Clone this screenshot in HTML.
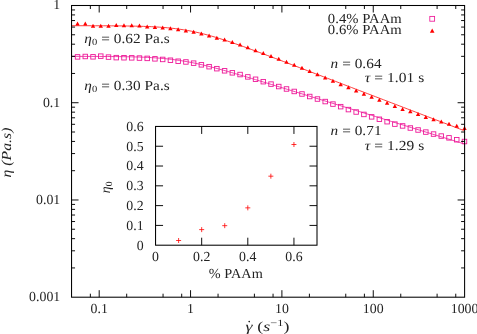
<!DOCTYPE html>
<html><head><meta charset="utf-8"><style>
html,body{margin:0;padding:0;background:#fff;}
body{width:477px;height:334px;overflow:hidden;}
svg{display:block;will-change:transform;}
text{font-family:"Liberation Serif",serif;font-size:13.8px;fill:#222;letter-spacing:0.05px;text-rendering:geometricPrecision;}
.i{font-style:italic;}
</style></head><body>
<svg width="477" height="334" viewBox="0 0 477 334">
<rect width="477" height="334" fill="#fff"/>
<text x="99.2" y="313" text-anchor="middle">0.1</text>
<text x="190.6" y="313" text-anchor="middle">1</text>
<text x="281.9" y="313" text-anchor="middle">10</text>
<text x="373.2" y="313" text-anchor="middle">100</text>
<text x="464.6" y="313" text-anchor="middle">1000</text>
<text x="60.3" y="9.3" text-anchor="end">1</text>
<text x="60.3" y="106.5" text-anchor="end">0.1</text>
<text x="60.3" y="203.8" text-anchor="end">0.01</text>
<text x="60.3" y="301.0" text-anchor="end">0.001</text>
<polyline points="71.5,56.37 75.5,56.37 79.5,56.38 83.5,56.39 87.5,56.40 91.5,56.41 95.5,56.43 99.5,56.44 103.5,56.47 107.5,56.49 111.5,56.53 115.5,56.57 119.5,56.62 123.5,56.68 127.5,56.75 131.6,56.84 135.6,56.95 139.6,57.07 143.6,57.23 147.6,57.41 151.6,57.62 155.6,57.88 159.6,58.17 163.6,58.52 167.6,58.91 171.6,59.36 175.6,59.88 179.6,60.45 183.6,61.08 187.6,61.78 191.6,62.54 195.6,63.35 199.6,64.22 203.6,65.14 207.6,66.10 211.6,67.10 215.6,68.14 219.6,69.21 223.6,70.31 227.6,71.43 231.6,72.56 235.6,73.72 239.6,74.89 243.6,76.07 247.6,77.26 251.6,78.46 255.6,79.66 259.6,80.87 263.6,82.09 267.6,83.30 271.6,84.52 275.6,85.75 279.6,86.97 283.6,88.20 287.6,89.43 291.6,90.66 295.6,91.89 299.6,93.12 303.6,94.35 307.6,95.58 311.6,96.82 315.6,98.05 319.6,99.28 323.6,100.52 327.6,101.75 331.6,102.99 335.6,104.22 339.6,105.45 343.6,106.69 347.6,107.92 351.6,109.16 355.6,110.39 359.6,111.63 363.6,112.86 367.6,114.10 371.6,115.33 375.6,116.57 379.6,117.80 383.6,119.03 387.6,120.27 391.6,121.50 395.6,122.74 399.6,123.97 403.6,125.21 407.6,126.44 411.6,127.68 415.6,128.91 419.6,130.15 423.6,131.38 427.6,132.62 431.6,133.85 435.6,135.09 439.6,136.32 443.6,137.55 447.6,138.79 451.6,140.02 455.6,141.26 459.6,142.49 463.6,143.73 464.6,144.05" fill="none" stroke="#ee1898" stroke-width="0.8"/>
<polyline points="71.5,25.71 75.5,25.71 79.5,25.72 83.5,25.72 87.5,25.73 91.5,25.74 95.5,25.75 99.5,25.76 103.5,25.78 107.5,25.80 111.5,25.83 115.5,25.86 119.5,25.90 123.5,25.95 127.5,26.00 131.6,26.07 135.6,26.16 139.6,26.26 143.6,26.38 147.6,26.53 151.6,26.70 155.6,26.91 159.6,27.16 163.6,27.45 167.6,27.80 171.6,28.20 175.6,28.66 179.6,29.19 183.6,29.79 187.6,30.47 191.6,31.23 195.6,32.06 199.6,32.97 203.6,33.95 207.6,35.00 211.6,36.11 215.6,37.28 219.6,38.51 223.6,39.78 227.6,41.09 231.6,42.44 235.6,43.82 239.6,45.22 243.6,46.64 247.6,48.09 251.6,49.55 255.6,51.02 259.6,52.50 263.6,54.00 267.6,55.50 271.6,57.00 275.6,58.51 279.6,60.02 283.6,61.54 287.6,63.06 291.6,64.59 295.6,66.11 299.6,67.64 303.6,69.16 307.6,70.69 311.6,72.22 315.6,73.75 319.6,75.28 323.6,76.81 327.6,78.34 331.6,79.87 335.6,81.40 339.6,82.94 343.6,84.47 347.6,86.00 351.6,87.53 355.6,89.07 359.6,90.60 363.6,92.13 367.6,93.66 371.6,95.20 375.6,96.73 379.6,98.26 383.6,99.79 387.6,101.33 391.6,102.86 395.6,104.39 399.6,105.92 403.6,107.46 407.6,108.99 411.6,110.52 415.6,112.05 419.6,113.59 423.6,115.12 427.6,116.65 431.6,118.19 435.6,119.72 439.6,121.25 443.6,122.78 447.6,124.32 451.6,125.85 455.6,127.38 459.6,128.91 463.6,130.45 464.6,130.85" fill="none" stroke="#ff0000" stroke-width="0.75"/>
<g fill="none" stroke="#ee1898" stroke-width="0.9"><rect x="75.30" y="54.63" width="4.5" height="4.5"/><rect x="83.04" y="54.24" width="4.5" height="4.5"/><rect x="90.78" y="54.57" width="4.5" height="4.5"/><rect x="98.52" y="53.90" width="4.5" height="4.5"/><rect x="106.26" y="54.85" width="4.5" height="4.5"/><rect x="114.00" y="55.39" width="4.5" height="4.5"/><rect x="121.73" y="55.50" width="4.5" height="4.5"/><rect x="129.47" y="55.59" width="4.5" height="4.5"/><rect x="137.21" y="55.82" width="4.5" height="4.5"/><rect x="144.95" y="56.14" width="4.5" height="4.5"/><rect x="152.69" y="56.59" width="4.5" height="4.5"/><rect x="160.43" y="57.19" width="4.5" height="4.5"/><rect x="168.17" y="57.98" width="4.5" height="4.5"/><rect x="175.91" y="58.98" width="4.5" height="4.5"/><rect x="183.65" y="59.71" width="4.5" height="4.5"/><rect x="191.38" y="60.90" width="4.5" height="4.5"/><rect x="199.12" y="62.58" width="4.5" height="4.5"/><rect x="206.86" y="64.44" width="4.5" height="4.5"/><rect x="214.60" y="66.43" width="4.5" height="4.5"/><rect x="222.34" y="68.55" width="4.5" height="4.5"/><rect x="230.08" y="70.58" width="4.5" height="4.5"/><rect x="237.82" y="72.29" width="4.5" height="4.5"/><rect x="245.56" y="74.65" width="4.5" height="4.5"/><rect x="253.30" y="77.03" width="4.5" height="4.5"/><rect x="261.04" y="79.44" width="4.5" height="4.5"/><rect x="268.77" y="81.86" width="4.5" height="4.5"/><rect x="276.51" y="84.29" width="4.5" height="4.5"/><rect x="284.25" y="86.73" width="4.5" height="4.5"/><rect x="291.99" y="89.21" width="4.5" height="4.5"/><rect x="299.73" y="91.73" width="4.5" height="4.5"/><rect x="307.47" y="94.26" width="4.5" height="4.5"/><rect x="315.21" y="96.78" width="4.5" height="4.5"/><rect x="322.95" y="99.31" width="4.5" height="4.5"/><rect x="330.69" y="101.84" width="4.5" height="4.5"/><rect x="338.43" y="104.40" width="4.5" height="4.5"/><rect x="346.17" y="107.34" width="4.5" height="4.5"/><rect x="353.90" y="109.76" width="4.5" height="4.5"/><rect x="361.64" y="112.18" width="4.5" height="4.5"/><rect x="369.38" y="114.61" width="4.5" height="4.5"/><rect x="377.12" y="117.03" width="4.5" height="4.5"/><rect x="384.86" y="119.45" width="4.5" height="4.5"/><rect x="392.60" y="121.87" width="4.5" height="4.5"/><rect x="400.34" y="123.68" width="4.5" height="4.5"/><rect x="408.08" y="125.76" width="4.5" height="4.5"/><rect x="415.82" y="127.74" width="4.5" height="4.5"/><rect x="423.56" y="129.83" width="4.5" height="4.5"/><rect x="431.29" y="131.82" width="4.5" height="4.5"/><rect x="439.03" y="133.81" width="4.5" height="4.5"/><rect x="446.77" y="135.59" width="4.5" height="4.5"/><rect x="454.51" y="137.49" width="4.5" height="4.5"/><rect x="462.25" y="139.27" width="4.5" height="4.5"/></g>
<path fill="#ff0000" d="M77.55 21.61l2.2 4.0h-4.4zM85.29 21.62l2.2 4.0h-4.4zM93.03 23.74l2.2 4.0h-4.4zM100.77 23.77l2.2 4.0h-4.4zM108.51 23.81l2.2 4.0h-4.4zM116.25 23.07l2.2 4.0h-4.4zM123.98 23.15l2.2 4.0h-4.4zM131.72 23.28l2.2 4.0h-4.4zM139.46 23.45l2.2 4.0h-4.4zM147.20 24.58l2.2 4.0h-4.4zM154.94 25.08l2.2 4.0h-4.4zM162.68 25.58l2.2 4.0h-4.4zM170.42 26.28l2.2 4.0h-4.4zM178.16 27.20l2.2 4.0h-4.4zM185.90 28.38l2.2 4.0h-4.4zM193.63 29.85l2.2 4.0h-4.4zM201.37 31.60l2.2 4.0h-4.4zM209.11 33.62l2.2 4.0h-4.4zM216.85 35.87l2.2 4.0h-4.4zM224.59 37.55l2.2 4.0h-4.4zM232.33 39.90l2.2 4.0h-4.4zM240.07 42.58l2.2 4.0h-4.4zM247.81 45.35l2.2 4.0h-4.4zM255.55 48.18l2.2 4.0h-4.4zM263.29 51.05l2.2 4.0h-4.4zM271.02 53.94l2.2 4.0h-4.4zM278.76 56.86l2.2 4.0h-4.4zM286.50 59.78l2.2 4.0h-4.4zM294.24 62.72l2.2 4.0h-4.4zM301.98 65.76l2.2 4.0h-4.4zM309.72 69.11l2.2 4.0h-4.4zM317.46 72.36l2.2 4.0h-4.4zM325.20 75.58l2.2 4.0h-4.4zM332.94 78.84l2.2 4.0h-4.4zM340.68 82.15l2.2 4.0h-4.4zM348.42 85.32l2.2 4.0h-4.4zM356.15 88.50l2.2 4.0h-4.4zM363.89 91.66l2.2 4.0h-4.4zM371.63 94.82l2.2 4.0h-4.4zM379.37 97.84l2.2 4.0h-4.4zM387.11 100.86l2.2 4.0h-4.4zM394.85 104.02l2.2 4.0h-4.4zM402.59 106.99l2.2 4.0h-4.4zM410.33 109.35l2.2 4.0h-4.4zM418.07 112.12l2.2 4.0h-4.4zM425.81 114.89l2.2 4.0h-4.4zM433.54 117.35l2.2 4.0h-4.4zM441.28 119.53l2.2 4.0h-4.4zM449.02 121.69l2.2 4.0h-4.4zM456.76 123.85l2.2 4.0h-4.4zM464.50 126.11l2.2 4.0h-4.4z"/>
<g stroke="#000" stroke-width="1.05" fill="none">
<rect x="71.55" y="5.5" width="393.05" height="291.7"/>
<path stroke-width="0.95" d="M90.35 297.2v-3.5M90.35 5.5v3.5M99.20 297.2v-7M99.20 5.5v7M126.70 297.2v-3.5M126.70 5.5v3.5M163.05 297.2v-3.5M163.05 5.5v3.5M181.70 297.2v-3.5M181.70 5.5v3.5M190.55 297.2v-7M190.55 5.5v7M218.05 297.2v-3.5M218.05 5.5v3.5M254.40 297.2v-3.5M254.40 5.5v3.5M273.05 297.2v-3.5M273.05 5.5v3.5M281.90 297.2v-7M281.90 5.5v7M309.40 297.2v-3.5M309.40 5.5v3.5M345.75 297.2v-3.5M345.75 5.5v3.5M364.40 297.2v-3.5M364.40 5.5v3.5M373.25 297.2v-7M373.25 5.5v7M400.75 297.2v-3.5M400.75 5.5v3.5M437.10 297.2v-3.5M437.10 5.5v3.5M455.75 297.2v-3.5M455.75 5.5v3.5M71.55 267.93h3.5M464.6 267.93h-3.5M71.55 250.81h3.5M464.6 250.81h-3.5M71.55 238.66h3.5M464.6 238.66h-3.5M71.55 229.24h3.5M464.6 229.24h-3.5M71.55 221.54h3.5M464.6 221.54h-3.5M71.55 215.03h3.5M464.6 215.03h-3.5M71.55 209.39h3.5M464.6 209.39h-3.5M71.55 204.42h3.5M464.6 204.42h-3.5M71.55 199.97h7M464.6 199.97h-7M71.55 170.70h3.5M464.6 170.70h-3.5M71.55 153.57h3.5M464.6 153.57h-3.5M71.55 141.43h3.5M464.6 141.43h-3.5M71.55 132.00h3.5M464.6 132.00h-3.5M71.55 124.30h3.5M464.6 124.30h-3.5M71.55 117.79h3.5M464.6 117.79h-3.5M71.55 112.16h3.5M464.6 112.16h-3.5M71.55 107.18h3.5M464.6 107.18h-3.5M71.55 102.73h7M464.6 102.73h-7M71.55 73.46h3.5M464.6 73.46h-3.5M71.55 56.34h3.5M464.6 56.34h-3.5M71.55 44.19h3.5M464.6 44.19h-3.5M71.55 34.77h3.5M464.6 34.77h-3.5M71.55 27.07h3.5M464.6 27.07h-3.5M71.55 20.56h3.5M464.6 20.56h-3.5M71.55 14.92h3.5M464.6 14.92h-3.5M71.55 9.95h3.5M464.6 9.95h-3.5"/>
</g>
<text x="327.8" y="22.7" textLength="74" lengthAdjust="spacingAndGlyphs">0.4% PAAm</text>
<text x="327.8" y="34.2" textLength="74" lengthAdjust="spacingAndGlyphs">0.6% PAAm</text>
<rect x="429.8" y="16.4" width="4.8" height="4.8" fill="none" stroke="#ee1898" stroke-width="0.85"/>
<path d="M432.2 28.4l2.3 4.3h-4.6z" fill="#ff0000"/>
<text x="84.3" y="43.1" textLength="85.5" lengthAdjust="spacingAndGlyphs"><tspan class="i">η</tspan><tspan dy="2" font-size="9.5">0</tspan><tspan dy="-2"> = 0.62 Pa.s</tspan></text>
<text x="84.3" y="89.8" textLength="85.5" lengthAdjust="spacingAndGlyphs"><tspan class="i">η</tspan><tspan dy="2" font-size="9.5">0</tspan><tspan dy="-2"> = 0.30 Pa.s</tspan></text>
<text x="330.6" y="68.1" textLength="51" lengthAdjust="spacingAndGlyphs"><tspan class="i">n</tspan> = 0.64</text>
<text x="364.8" y="82" textLength="59.6" lengthAdjust="spacingAndGlyphs"><tspan class="i">τ</tspan> = 1.01 s</text>
<text x="330.6" y="134.8" textLength="51" lengthAdjust="spacingAndGlyphs"><tspan class="i">n</tspan> = 0.71</text>
<text x="364.8" y="149.7" textLength="59.6" lengthAdjust="spacingAndGlyphs"><tspan class="i">τ</tspan> = 1.29 s</text>
<text class="i" transform="translate(11.3,152.5) rotate(-90)" text-anchor="middle" textLength="49.8" lengthAdjust="spacingAndGlyphs">η (Pa.s)</text>
<text x="245.6" y="330.8" textLength="44" lengthAdjust="spacingAndGlyphs"><tspan class="i">γ</tspan> (<tspan class="i">s</tspan><tspan dy="-5" font-size="9.5">−1</tspan><tspan dy="5">)</tspan></text>
<circle cx="249.2" cy="321.6" r="0.8" fill="#111"/>
<rect x="155.55" y="126.45" width="161.45" height="118.74999999999999" fill="#fff" stroke="none"/>
<g stroke="#000" stroke-width="1.05" fill="none">
<rect x="155.55" y="126.45" width="161.45" height="118.74999999999999"/>
<path stroke-width="0.95" d="M201.68 245.2v-7.5M201.68 126.45v7.5M247.81 245.2v-7.5M247.81 126.45v7.5M293.94 245.2v-7.5M293.94 126.45v7.5M155.55 225.41h7.5M317.0 225.41h-7.5M155.55 205.62h7.5M317.0 205.62h-7.5M155.55 185.82h7.5M317.0 185.82h-7.5M155.55 166.03h7.5M317.0 166.03h-7.5M155.55 146.24h7.5M317.0 146.24h-7.5"/></g>
<text x="155.6" y="260.9" text-anchor="middle">0</text>
<text x="201.7" y="260.9" text-anchor="middle">0.2</text>
<text x="247.8" y="260.9" text-anchor="middle">0.4</text>
<text x="293.9" y="260.9" text-anchor="middle">0.6</text>
<text x="143.7" y="249.6" text-anchor="end">0</text>
<text x="143.7" y="229.8" text-anchor="end">0.1</text>
<text x="143.7" y="210.0" text-anchor="end">0.2</text>
<text x="143.7" y="190.2" text-anchor="end">0.3</text>
<text x="143.7" y="170.4" text-anchor="end">0.4</text>
<text x="143.7" y="150.6" text-anchor="end">0.5</text>
<text x="143.7" y="130.8" text-anchor="end">0.6</text>
<path d="M176.11 240.50h5M178.61 238.00v5M199.18 229.62h5M201.68 227.12v5M222.24 225.66h5M224.74 223.16v5M245.31 207.85h5M247.81 205.35v5M268.37 176.18h5M270.87 173.68v5M291.44 144.51h5M293.94 142.01v5" stroke="#ff0000" stroke-width="0.8" fill="none"/>
<text x="208.8" y="277.5" textLength="54" lengthAdjust="spacingAndGlyphs">% PAAm</text>
<text transform="translate(109.8,193.2) rotate(-90)"><tspan class="i">η</tspan><tspan dy="2" font-size="9.5">0</tspan></text>
</svg></body></html>
